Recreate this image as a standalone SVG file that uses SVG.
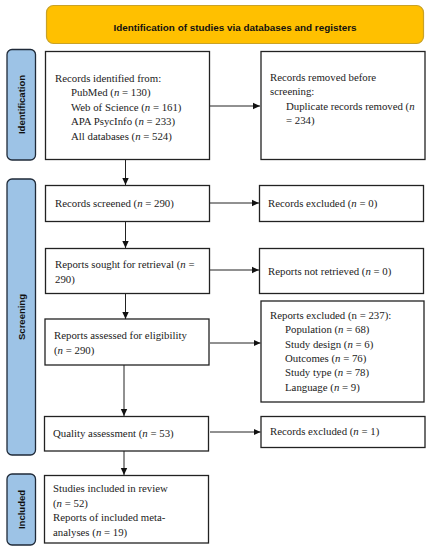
<svg xmlns="http://www.w3.org/2000/svg" width="430" height="550" viewBox="0 0 430 550">
<style>
.box{fill:#fff;stroke:#222;stroke-width:1.3}
.lab{fill:#9DC3E6;stroke:#1f2a38;stroke-width:1.3}
.t{font-family:"Liberation Serif","Times New Roman",serif;font-size:10.8px;fill:#222}
.vt{font-family:"Liberation Sans",Arial,sans-serif;font-size:9.5px;font-weight:bold;fill:#111}
.ht{font-family:"Liberation Sans",Arial,sans-serif;font-size:9.9px;font-weight:bold;fill:#111}
.c{stroke:#222;stroke-width:1;fill:none}
</style>
<defs>
<marker id="a" markerWidth="8" markerHeight="8" refX="7" refY="4" orient="auto" markerUnits="userSpaceOnUse">
<path d="M0,0.8 L7,4 L0,7.2 Z" fill="#111"/>
</marker>
</defs>
<g id="header">
<rect x="46.5" y="5.5" width="377" height="38" rx="7" fill="#FFC000" stroke="#C9A227" stroke-width="1.2"/>
<text class="ht" x="235" y="30.5" text-anchor="middle">Identification of studies via databases and registers</text>
</g>
<g id="label-identification">
<rect class="lab" x="7" y="49.5" width="28.5" height="110.5" rx="5"/>
<text class="vt" transform="translate(24.5,104.5) rotate(-90)" text-anchor="middle">Identification</text>
</g>
<g id="label-screening">
<rect class="lab" x="7" y="179" width="28.5" height="276" rx="5"/>
<text class="vt" transform="translate(24.5,317) rotate(-90)" text-anchor="middle">Screening</text>
</g>
<g id="label-included">
<rect class="lab" x="7" y="474" width="28.5" height="71" rx="5"/>
<text class="vt" transform="translate(24.5,509.5) rotate(-90)" text-anchor="middle">Included</text>
</g>
<g id="identified">
<rect class="box" x="45.5" y="51.5" width="164" height="108"/>
<text class="t" x="55" y="82">Records identified from:</text>
<text class="t" x="71" y="96.4">PubMed (<tspan font-style="italic">n</tspan> = 130)</text>
<text class="t" x="71" y="110.8">Web of Science (<tspan font-style="italic">n</tspan> = 161)</text>
<text class="t" x="71" y="125.2">APA PsycInfo (<tspan font-style="italic">n</tspan> = 233)</text>
<text class="t" x="71" y="139.6">All databases (<tspan font-style="italic">n</tspan> = 524)</text>
</g>
<g id="removed">
<rect class="box" x="261" y="51.5" width="164" height="108"/>
<text class="t" x="270" y="81">Records removed before</text>
<text class="t" x="270" y="95.4">screening:</text>
<text class="t" x="286" y="109.8">Duplicate records removed (<tspan font-style="italic">n</tspan></text>
<text class="t" x="286" y="124.2">= 234)</text>
</g>
<g id="screened">
<rect class="box" x="45.5" y="185.5" width="164" height="36"/>
<text class="t" x="55" y="207">Records screened (<tspan font-style="italic">n</tspan> = 290)</text>
</g>
<g id="excluded0">
<rect class="box" x="259.5" y="185.5" width="164" height="36"/>
<text class="t" x="268" y="207">Records excluded (<tspan font-style="italic">n</tspan> = 0)</text>
</g>
<g id="sought">
<rect class="box" x="45.5" y="248.5" width="164" height="45"/>
<text class="t" x="55" y="268">Reports sought for retrieval (<tspan font-style="italic">n</tspan> =</text>
<text class="t" x="55" y="283">290)</text>
</g>
<g id="notretrieved">
<rect class="box" x="259.5" y="248.5" width="164" height="45"/>
<text class="t" x="268" y="275">Reports not retrieved (<tspan font-style="italic">n</tspan> = 0)</text>
</g>
<g id="assessed">
<rect class="box" x="45" y="319" width="164" height="46"/>
<text class="t" x="54" y="339">Reports assessed for eligibility</text>
<text class="t" x="54" y="354">(<tspan font-style="italic">n</tspan> = 290)</text>
</g>
<g id="excluded237">
<rect class="box" x="261" y="301" width="163" height="101"/>
<text class="t" x="270" y="319">Reports excluded (n = 237):</text>
<text class="t" x="285" y="333.3">Population (<tspan font-style="italic">n</tspan> = 68)</text>
<text class="t" x="285" y="347.6">Study design (<tspan font-style="italic">n</tspan> = 6)</text>
<text class="t" x="285" y="361.9">Outcomes (<tspan font-style="italic">n</tspan> = 76)</text>
<text class="t" x="285" y="376.2">Study type (<tspan font-style="italic">n</tspan> = 78)</text>
<text class="t" x="285" y="390.5">Language (<tspan font-style="italic">n</tspan> = 9)</text>
</g>
<g id="quality">
<rect class="box" x="44.5" y="416.5" width="164" height="34.5"/>
<text class="t" x="53" y="437">Quality assessment (<tspan font-style="italic">n</tspan> = 53)</text>
</g>
<g id="excluded1">
<rect class="box" x="261" y="416.5" width="164" height="31"/>
<text class="t" x="270" y="435">Records excluded (<tspan font-style="italic">n</tspan> = 1)</text>
</g>
<g id="included">
<rect class="box" x="44.5" y="475.5" width="164" height="67.5"/>
<text class="t" x="53" y="492">Studies included in review</text>
<text class="t" x="53" y="506.5">(<tspan font-style="italic">n</tspan> = 52)</text>
<text class="t" x="53" y="521">Reports of included meta-</text>
<text class="t" x="53" y="535.5">analyses (<tspan font-style="italic">n</tspan> = 19)</text>
</g>
<g id="connectors">
<line class="c" x1="210" y1="106" x2="260" y2="106" marker-end="url(#a)"/>
<line class="c" x1="125.5" y1="160" x2="125.5" y2="185" marker-end="url(#a)"/>
<line class="c" x1="210" y1="203" x2="259" y2="203" marker-end="url(#a)"/>
<line class="c" x1="125.5" y1="222" x2="125.5" y2="248" marker-end="url(#a)"/>
<line class="c" x1="210" y1="270" x2="259" y2="270" marker-end="url(#a)"/>
<line class="c" x1="125.5" y1="294" x2="125.5" y2="319" marker-end="url(#a)"/>
<line class="c" x1="210" y1="343" x2="260.5" y2="343" marker-end="url(#a)"/>
<line class="c" x1="124" y1="365" x2="124" y2="416" marker-end="url(#a)"/>
<line class="c" x1="210" y1="432" x2="260.5" y2="432" marker-end="url(#a)"/>
<line class="c" x1="124" y1="451" x2="124" y2="475" marker-end="url(#a)"/>
</g>
</svg>
